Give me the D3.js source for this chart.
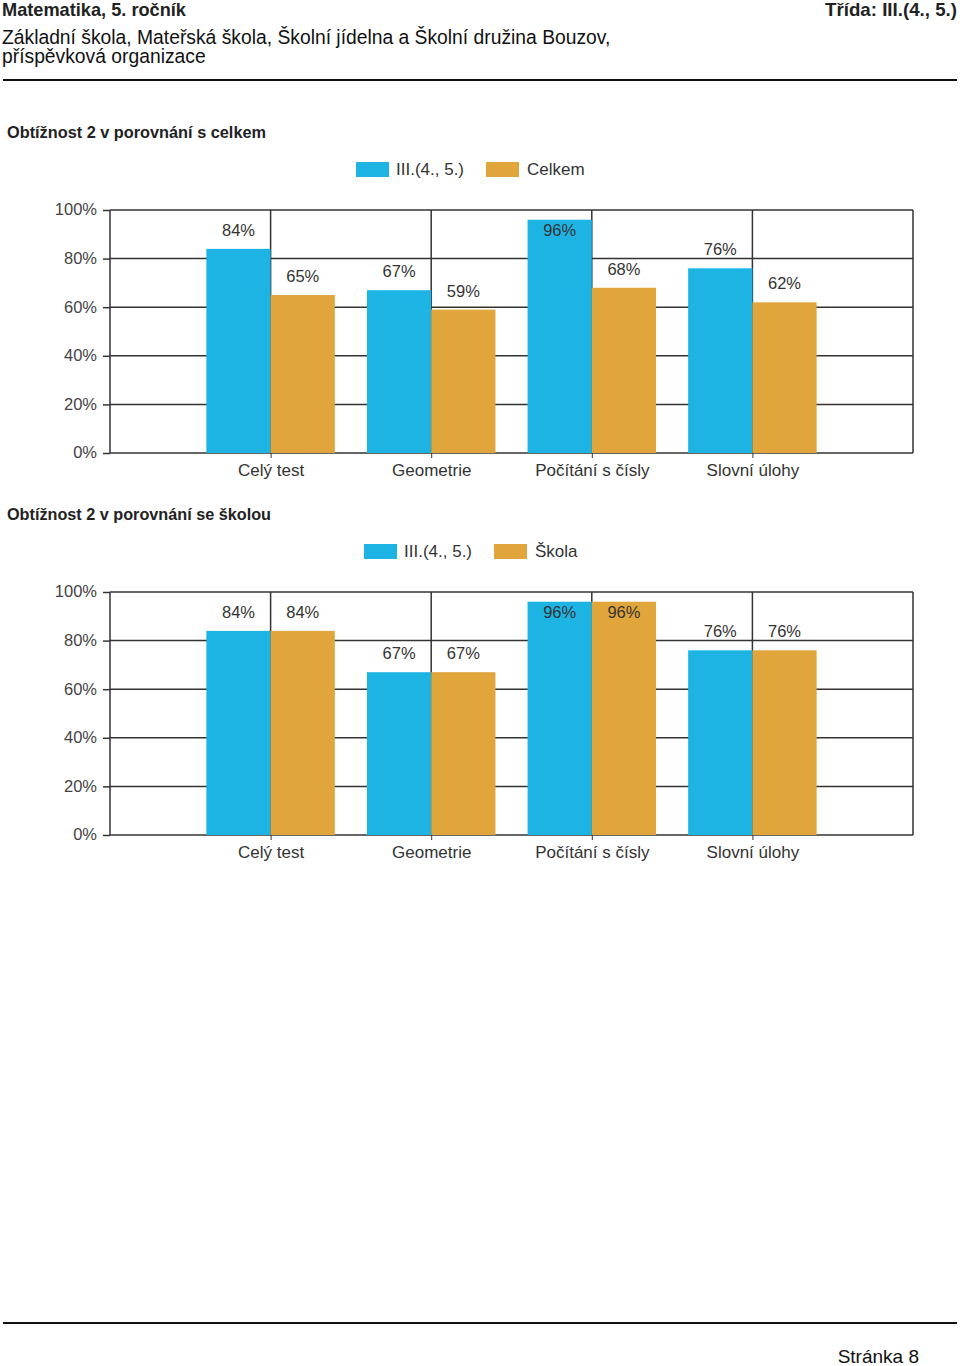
<!DOCTYPE html>
<html>
<head>
<meta charset="utf-8">
<script src="https://cdn.jsdelivr.net/npm/d3@7"></script>
<style>
  body { margin: 0; background: #fff; }
  svg text { font-family: "Liberation Sans", Arial, sans-serif; }
</style>
</head>
<body>
<div id="page"></div>
<script>
var categories = ['Celý test', 'Geometrie', 'Počítání s čísly', 'Slovní úlohy'];
var classValues = [84, 67, 96, 76];
var totalValues = [65, 59, 68, 62];
var schoolValues = [84, 67, 96, 76];
var yTicks = [0, 20, 40, 60, 80, 100];
var seriesNames1 = ['III.(4., 5.)', 'Celkem'];
var seriesNames2 = ['III.(4., 5.)', 'Škola'];

var blue = '#1db4e4', orange = '#e0a53b';
var gridColor = '#333', textColor = '#333';

var svg = d3.select('#page').append('svg')
    .attr('width', 960)
    .attr('height', 1366);

// page header
var head = svg.append('g');
head.append('text').attr('x', 2).attr('y', 16)
    .style('font-family', '"Liberation Sans Narrow", "Liberation Sans", sans-serif')
    .style('font-weight', 'bold').style('font-size', '19px').attr('fill', '#222')
    .attr('textLength', 184).attr('lengthAdjust', 'spacingAndGlyphs')
    .text('Matematika, 5. ročník');
head.append('text').attr('x', 957).attr('y', 16).attr('text-anchor', 'end')
    .style('font-family', '"Liberation Sans Narrow", "Liberation Sans", sans-serif')
    .style('font-weight', 'bold').style('font-size', '19px').attr('fill', '#222')
    .attr('textLength', 132).attr('lengthAdjust', 'spacingAndGlyphs')
    .text('Třída: III.(4., 5.)');
head.append('text').attr('x', 2).attr('y', 44)
    .style('font-size', '19.3px').attr('fill', '#111')
    .text('Základní škola, Mateřská škola, Školní jídelna a Školní družina Bouzov,');
head.append('text').attr('x', 2).attr('y', 63)
    .style('font-size', '19.3px').attr('fill', '#111')
    .text('příspěvková organizace');
head.append('line').attr('x1', 3).attr('x2', 957).attr('y1', 80).attr('y2', 80)
    .attr('stroke', '#111').attr('stroke-width', 2);

// footer
svg.append('line').attr('x1', 3).attr('x2', 957).attr('y1', 1323).attr('y2', 1323)
    .attr('stroke', '#111').attr('stroke-width', 2);
svg.append('text').attr('x', 919).attr('y', 1363).attr('text-anchor', 'end')
    .style('font-size', '19px').attr('fill', '#111').text('Stránka 8');

var drawChart = function (top, title, titleLen, names, valuesA, valuesB, legendX) {
    var g = svg.append('g');
    var left = 110, right = 913;
    var plotTop = top + 98, plotBottom = top + 341;

    g.append('text').attr('x', 7).attr('y', top + 26)
        .style('font-size', '17px').style('font-weight', 'bold')
        .attr('textLength', titleLen).attr('lengthAdjust', 'spacingAndGlyphs')
        .attr('fill', '#222')
        .text(title);

    // legend
    var lg = g.append('g').attr('transform', 'translate(' + legendX + ',' + (top + 50) + ')');
    lg.append('rect').attr('x', 0).attr('y', 0).attr('width', 33).attr('height', 15).attr('fill', blue);
    lg.append('text').attr('x', 40).attr('y', 13).style('font-size', '17px').attr('fill', textColor).text(names[0]);
    lg.append('rect').attr('x', 130).attr('y', 0).attr('width', 33).attr('height', 15).attr('fill', orange);
    lg.append('text').attr('x', 171).attr('y', 13).style('font-size', '17px').attr('fill', textColor).text(names[1]);

    var x = d3.scaleLinear().domain([0, categories.length + 1]).range([left, right]);
    var y = d3.scaleLinear().domain([0, 100]).range([plotBottom, plotTop]);
    var step = x(1) - x(0);
    var bw = step * 0.4;

    // grid
    g.append('g').selectAll('line.h').data(yTicks).enter().append('line')
        .attr('x1', left).attr('x2', right)
        .attr('y1', function (d) { return y(d); }).attr('y2', function (d) { return y(d); })
        .attr('stroke', gridColor).attr('stroke-width', 1.5);
    var vx = [0].concat(d3.range(1, categories.length + 1)).concat([categories.length + 1]);
    g.append('g').selectAll('line.v').data(vx).enter().append('line')
        .attr('x1', function (d) { return x(d); }).attr('x2', function (d) { return x(d); })
        .attr('y1', plotTop).attr('y2', plotBottom)
        .attr('stroke', gridColor).attr('stroke-width', 1.5);

    // bars
    var bars = g.append('g');
    categories.forEach(function (c, i) {
        var cx = x(i + 1);
        bars.append('rect').attr('x', cx - bw).attr('y', y(valuesA[i]))
            .attr('width', bw).attr('height', plotBottom - y(valuesA[i])).attr('fill', blue);
        bars.append('rect').attr('x', cx).attr('y', y(valuesB[i]))
            .attr('width', bw).attr('height', plotBottom - y(valuesB[i])).attr('fill', orange);
    });

    // value labels
    var labels = [];
    categories.forEach(function (c, i) {
        labels.push({ x: x(i + 1) - bw / 2, v: valuesA[i] });
        labels.push({ x: x(i + 1) + bw / 2, v: valuesB[i] });
    });
    g.append('g').selectAll('text').data(labels).enter().append('text')
        .attr('x', function (d) { return d.x; })
        .attr('y', function (d) { return Math.max(y(d.v) - 19, plotTop + 20) + 6; })
        .attr('text-anchor', 'middle').style('font-size', '16.5px').attr('fill', textColor)
        .text(function (d) { return d.v + '%'; });

    // y axis
    var yAxis = d3.axisLeft(y).tickValues(yTicks).tickSize(7).tickFormat(function (d) { return d + '%'; });
    var ya = g.append('g').attr('transform', 'translate(' + left + ',0)').call(yAxis);
    ya.select('.domain').remove();
    ya.selectAll('line').attr('stroke', gridColor).attr('stroke-width', 1.5);
    ya.selectAll('text').style('font-size', '16.5px').attr('fill', '#444').attr('x', -13).attr('dy', '0.3em');

    // x axis
    var xAxis = d3.axisBottom(x).tickValues(d3.range(1, categories.length + 1)).tickSize(5)
        .tickFormat(function (d) { return categories[d - 1]; });
    var xa = g.append('g').attr('transform', 'translate(0,' + plotBottom + ')').call(xAxis);
    xa.select('.domain').remove();
    xa.selectAll('line').attr('stroke', gridColor);
    xa.selectAll('text').style('font-size', '17px').attr('fill', textColor).attr('y', 11);
};

drawChart(112, 'Obtížnost 2 v porovnání s celkem', 259, seriesNames1, classValues, totalValues, 356);
drawChart(494, 'Obtížnost 2 v porovnání se školou', 264, seriesNames2, classValues, schoolValues, 364);
</script>
</body>
</html>
